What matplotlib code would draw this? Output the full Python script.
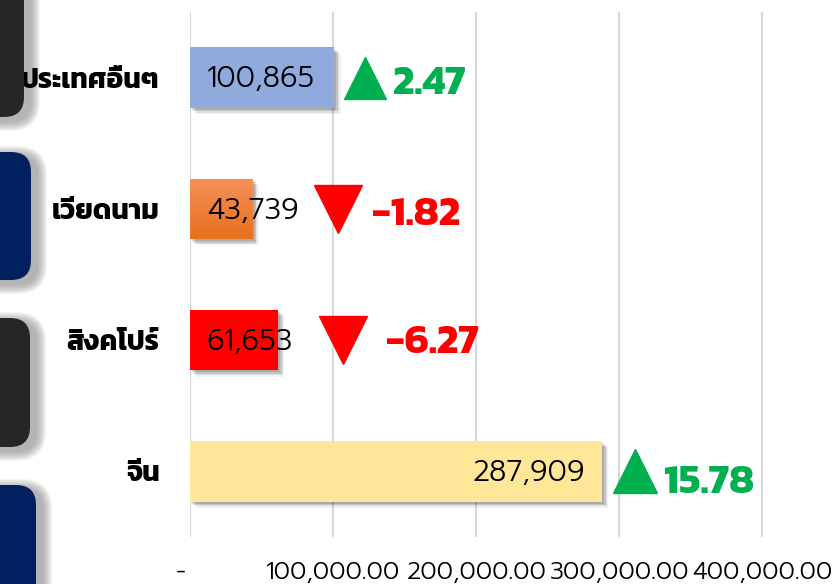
import matplotlib
matplotlib.use("Agg")
import matplotlib.pyplot as plt
import numpy as np
from matplotlib.patches import FancyBboxPatch
from matplotlib import transforms
from matplotlib.colors import LinearSegmentedColormap
import matplotlib.patheffects as pe

# ---------------- data ----------------
categories = ["ประเทศอื่นๆ", "เวียดนาม", "สิงคโปร์", "จีน"]
values = [100865, 43739, 61653, 287909]
changes = [2.47, -1.82, -6.27, 15.78]
xticks = [0, 100000, 200000, 300000, 400000]
xtick_labels = ["-", "100,000.00", "200,000.00", "300,000.00", "400,000.00"]

# ---------------- styles / layout ----------------
bar_colors = ["#8FAADC", "#ED7D31", "#FF0000", "#FFE699"]
label_inside_end = [False, False, False, True]
arrow_x = [122400, 103500, 107000, 311200]      # triangle centres (data units)
change_x = [141500, 127000, 137000, 331000]     # change-label left edges
change_dy = [12.0, 11.5, 9.5, 15.5]              # baseline offset below bar centre (pt)
arrow_size = [30, 35, 35, 31]
GREEN = "#00B050"
RED = "#FF0000"
BOLD_FONT = ["Kanit", "DejaVu Sans"]
LIGHT_FONT = ["Prompt", "DejaVu Sans"]

W, H, DPI = 835, 584, 100
fig = plt.figure(figsize=(W / DPI, H / DPI), dpi=DPI)
pxT = transforms.Affine2D().scale(1 / DPI, -1 / DPI).translate(0, H / DPI) + fig.dpi_scale_trans

# decorative rounded boxes at the left edge (with soft shadow)
boxes = [(-40, -30, 64, 147, "#262626"),
         (-40, 152, 71, 128, "#002060"),
         (-40, 318, 70, 129, "#262626"),
         (-40, 485, 76, 140, "#002060")]
for (x, y, w, h, c) in boxes:
    for k in range(10, 0, -1):
        sh = FancyBboxPatch((x + 6, y + 4), w, h,
                            boxstyle=f"round,pad={k},rounding_size={20 + k}",
                            transform=pxT, facecolor="#7F7F7F", edgecolor="none",
                            alpha=0.08, zorder=0)
        fig.add_artist(sh)
    fig.add_artist(FancyBboxPatch((x, y), w, h, boxstyle="round,pad=0,rounding_size=20",
                                  transform=pxT, facecolor=c, edgecolor="none", zorder=1))

ax = fig.add_axes([190 / W, 1 - 537 / H, (834 - 190) / W, (537 - 12) / H])
ypos = np.arange(len(categories))

shadow = [pe.SimplePatchShadow(offset=(o, -o), shadow_rgbFace="#000000", alpha=a)
          for o, a in [(4.5, 0.05), (3.5, 0.08), (2.5, 0.12), (1.5, 0.12)]] + [pe.Normal()]
bars = ax.barh(ypos, values, height=0.46, color=bar_colors, zorder=3)
for b in bars:
    b.set_path_effects(shadow)

# orange gradient on the Vietnam bar
vb = bars[1]
grad = np.linspace(0, 1, 100).reshape(-1, 1)
cmap = LinearSegmentedColormap.from_list("og", ["#F4915A", "#E8701E"])
x0, y0 = vb.get_x(), vb.get_y()
im = ax.imshow(grad, cmap=cmap, aspect="auto",
               extent=[x0, x0 + vb.get_width(), y0 + vb.get_height(), y0],
               zorder=3.5, interpolation="bicubic")
im.set_clip_path(vb)
ax.set_xlim(0, 450000)
ax.set_ylim(3.5, -0.5)

# value labels
for i, v in enumerate(values):
    txt = f"{v:,}"
    if label_inside_end[i]:
        ax.annotate(txt, (v, i), xytext=(-12, -7), textcoords="offset points",
                    ha="right", va="baseline", fontsize=21, family=LIGHT_FONT,
                    weight=300, color="black", zorder=5)
    else:
        ax.annotate(txt, (0, i), xytext=(12, -7), textcoords="offset points",
                    ha="left", va="baseline", fontsize=21, family=LIGHT_FONT,
                    weight=300, color="black", zorder=5)

# change arrows and labels
for i, c in enumerate(changes):
    col = GREEN if c >= 0 else RED
    mk = "^" if c >= 0 else "v"
    ax.plot([arrow_x[i]], [i], marker=mk, markersize=arrow_size[i], color=col,
            linestyle="none", zorder=5, clip_on=False)
    ax.annotate(f"{c:.2f}", (change_x[i], i), xytext=(0, -change_dy[i]),
                textcoords="offset points", ha="left", va="baseline", fontsize=29.5,
                family=BOLD_FONT, weight=700, color=col, zorder=5)

# axes styling
ax.set_xticks(xticks)
ax.set_xticklabels(xtick_labels, family=LIGHT_FONT, weight=300, fontsize=17.7)
ax.set_yticks(ypos)
ax.set_yticklabels(categories, family=BOLD_FONT, weight=700, fontsize=20)
ax.tick_params(axis="both", length=0)
ax.tick_params(axis="x", pad=17)
ax.tick_params(axis="y", pad=22)
for s in ax.spines.values():
    s.set_visible(False)
ax.grid(axis="x", color="#D9D9D9", linewidth=1.5, zorder=0)
ax.set_axisbelow(True)
ax.patch.set_alpha(0)

# shift the "-" zero label slightly left like the accounting format
lbl0 = ax.get_xticklabels()[0]
lbl0.set_transform(lbl0.get_transform() +
                   transforms.ScaledTranslation(-9 / DPI, 0, fig.dpi_scale_trans))

fig.savefig("out.png", dpi=DPI)
